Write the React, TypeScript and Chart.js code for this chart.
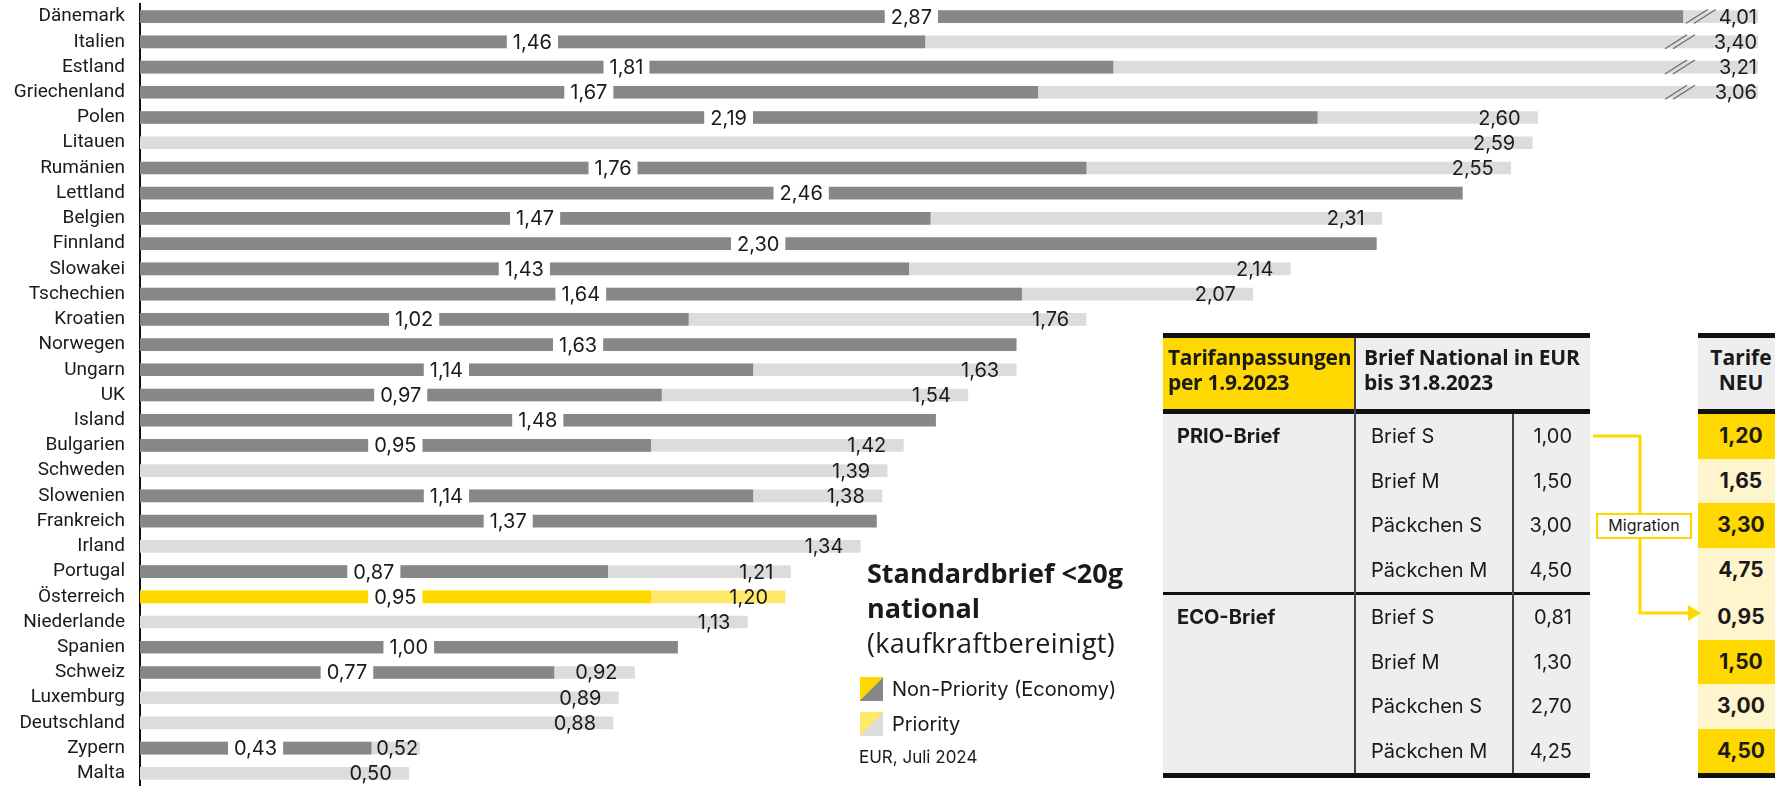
import React, { useEffect, useRef } from "react";
import { Chart, registerables } from "chart.js";

Chart.register(...registerables);

const countries = [
  "Dänemark", "Italien", "Estland", "Griechenland", "Polen", "Litauen", "Rumänien", "Lettland",
  "Belgien", "Finnland", "Slowakei", "Tschechien", "Kroatien", "Norwegen", "Ungarn", "UK",
  "Island", "Bulgarien", "Schweden", "Slowenien", "Frankreich", "Irland", "Portugal", "Österreich",
  "Niederlande", "Spanien", "Schweiz", "Luxemburg", "Deutschland", "Zypern", "Malta",
];

const nonPriority: (number | null)[] = [
  2.87, 1.46, 1.81, 1.67, 2.19, null, 1.76, 2.46,
  1.47, 2.30, 1.43, 1.64, 1.02, 1.63, 1.14, 0.97,
  1.48, 0.95, null, 1.14, 1.37, null, 0.87, 0.95,
  null, 1.00, 0.77, null, null, 0.43, null,
];

const priority: (number | null)[] = [
  4.01, 3.40, 3.21, 3.06, 2.60, 2.59, 2.55, null,
  2.31, null, 2.14, 2.07, 1.76, null, 1.63, 1.54,
  null, 1.42, 1.39, 1.38, null, 1.34, 1.21, 1.20,
  1.13, null, 0.92, 0.89, 0.88, 0.52, 0.50,
];

const highlightCountry = "Österreich";
const X_MAX = 3.01;

const prioItems = ["Brief S", "Brief M", "Päckchen S", "Päckchen M"];
const prioOld = ["1,00", "1,50", "3,00", "4,50"];
const ecoItems = ["Brief S", "Brief M", "Päckchen S", "Päckchen M"];
const ecoOld = ["0,81", "1,30", "2,70", "4,25"];
const newTariffs = ["1,20", "1,65", "3,30", "4,75", "0,95", "1,50", "3,00", "4,50"];
const newHighlight = [true, false, true, false, false, true, false, true];

const fmt = (v: number) => v.toFixed(2).replace(".", ",");

const FONT = "Roboto, 'Noto Sans', sans-serif";
const FONT2 = "Inter, 'Open Sans', sans-serif";
const FONT3 = "'Open Sans', Inter, sans-serif";
const TXT = "#1a1a1a";
const YEL = "#ffd800";
const YEL_LIGHT = "#ffe86a";
const CELL_LIGHT_YEL = "#fff5cc";
const GREY_BG = "#eeeeee";

const labelPlugin = {
  id: "barLabels",
  afterDatasetsDraw(chart: any) {
    const c = chart.ctx as CanvasRenderingContext2D;
    const xs = chart.scales.x;
    const ys = chart.scales.y;
    const area = chart.chartArea;
    c.save();
    c.font = `20px ${FONT2}`;
    c.textBaseline = "middle";
    countries.forEach((_, i) => {
      const y = ys.getPixelForValue(i);
      const np = nonPriority[i];
      const p = priority[i];
      const npEnd = np != null ? xs.getPixelForValue(np) : null;
      if (p != null && p > X_MAX) {
        let bx = area.right - 93;
        if (npEnd != null && npEnd + 3 > bx) bx = npEnd + 3;
        c.strokeStyle = "#6a6a6a";
        c.lineWidth = 1.2;
        c.beginPath();
        c.moveTo(bx, y + 7);
        c.lineTo(bx + 22, y - 7);
        c.moveTo(bx + 8, y + 7);
        c.lineTo(bx + 30, y - 7);
        c.stroke();
      }
      if (np != null && npEnd != null) {
        const t = fmt(np);
        const w = c.measureText(t).width;
        const cx = (area.left + npEnd) / 2;
        c.fillStyle = "#ffffff";
        c.fillRect(cx - w / 2 - 6, y - 7, w + 12, 14);
        c.fillStyle = TXT;
        c.textAlign = "center";
        c.fillText(t, cx, y + 1);
      }
      if (p != null) {
        const t = fmt(p);
        const w = c.measureText(t).width;
        const pEnd = Math.min(xs.getPixelForValue(p), area.right);
        let right = p > X_MAX ? area.right - 1 : pEnd - 17;
        if (npEnd != null && right - w < npEnd + 5) right = npEnd + 5 + w;
        c.fillStyle = TXT;
        c.textAlign = "right";
        c.fillText(t, right, y + 1);
      }
    });
    c.restore();
  },
};

const abs = (l: number, t: number, w: number, h: number, extra: any = {}): React.CSSProperties => ({
  position: "absolute",
  left: l,
  top: t,
  width: w,
  height: h,
  boxSizing: "border-box",
  ...extra,
});

const txt = (family: string, size: number, lh: number, bold = false) => ({
  fontFamily: family,
  fontSize: size,
  fontWeight: bold ? 700 : 400,
  lineHeight: `${lh}px`,
  color: TXT,
  whiteSpace: "nowrap",
});

function Tables() {
  const L = 1163, C1 = 1355, C2 = 1513, R = 1590;
  const topLine = 333, headTop = 338, headBot = 409, bodyTop = 414, rowH = 44.5;
  const midLine = bodyTop + 4 * rowH;
  const ecoTop = midLine + 3;
  const bottom = ecoTop + 4 * rowH;
  const RL = 1698, RW = 86;
  const line = (t: number, h: number, l = L, w = R - L) => <div style={abs(l, t, w, h, { background: "#111" })} />;
  const rowText = (t: number, l: number, w: number, s: string, extra: any = {}) => (
    <div style={abs(l, t, w, rowH, { ...txt(FONT2, 20, rowH), ...extra })}>{s}</div>
  );
  const headH = headBot - headTop - 7;
  return (
    <>
      <div style={abs(L, headTop, C1 - L, headBot - headTop, { background: YEL })} />
      <div style={abs(C1, headTop, R - C1, headBot - headTop, { background: GREY_BG })} />
      <div style={abs(L, bodyTop, R - L, bottom - bodyTop, { background: GREY_BG })} />
      {line(topLine, 5)}
      {line(headBot, 5)}
      {line(midLine, 3)}
      {line(bottom, 5)}
      <div style={abs(C1 - 1, headTop, 2, bottom - headTop, { background: "#444" })} />
      <div style={abs(C2 - 1, bodyTop, 2, bottom - bodyTop, { background: "#444" })} />
      <div style={abs(L + 5, headTop, C1 - L, headH, { ...txt(FONT3, 21, 25, true), display: "flex", alignItems: "center", letterSpacing: "-0.3px" })}>
        <div>Tarifanpassungen<br />per 1.9.2023</div>
      </div>
      <div style={abs(C1 + 9, headTop, R - C1, headH, { ...txt(FONT3, 21, 25, true), display: "flex", alignItems: "center", letterSpacing: "-0.2px" })}>
        <div>Brief National in EUR<br />bis 31.8.2023</div>
      </div>
      {rowText(bodyTop, L + 14, 170, "PRIO-Brief", { fontWeight: 700 })}
      {rowText(ecoTop, L + 14, 170, "ECO-Brief", { fontWeight: 700 })}
      {prioItems.map((it, i) => rowText(bodyTop + i * rowH, C1 + 16, 150, it))}
      {prioOld.map((v, i) => rowText(bodyTop + i * rowH, C2, R - C2 - 18, v, { textAlign: "right" }))}
      {ecoItems.map((it, i) => rowText(ecoTop + i * rowH, C1 + 16, 150, it))}
      {ecoOld.map((v, i) => rowText(ecoTop + i * rowH, C2, R - C2 - 18, v, { textAlign: "right" }))}

      <div style={abs(RL, headTop, RW, headBot - headTop, { background: GREY_BG })} />
      {line(topLine, 5, RL, RW)}
      {line(headBot, 5, RL, RW)}
      {line(bottom, 5, RL, RW)}
      <div style={abs(RL, headTop, RW, headH, { ...txt(FONT3, 21, 25, true), display: "flex", alignItems: "center", justifyContent: "center", textAlign: "center" })}>
        <div>Tarife<br />NEU</div>
      </div>
      {newTariffs.map((v, i) => {
        const t = i < 4 ? bodyTop + i * rowH : ecoTop + (i - 4) * rowH;
        const h = i === 3 ? rowH + 3 : rowH;
        return (
          <div key={i} style={abs(RL, t, RW, h, { background: newHighlight[i] ? YEL : CELL_LIGHT_YEL })}>
            <div style={abs(0, 0, RW, rowH, { ...txt(FONT2, 21, rowH, true), textAlign: "center" })}>{v}</div>
          </div>
        );
      })}

      <svg style={{ position: "absolute", left: 0, top: 0 }} width={1775} height={786}>
        <path d="M 1593 436 H 1640 V 613 H 1690" fill="none" stroke={YEL} strokeWidth={3} />
        <polygon points="1688,605 1701,613 1688,621" fill={YEL} />
      </svg>
      <div style={abs(1596, 513, 96, 26, { background: "#fff", border: `2.5px solid ${YEL}`, ...txt(FONT2, 16, 21), textAlign: "center" })}>Migration</div>
    </>
  );
}

function Legend() {
  const sw = (a: string, b: string) => `linear-gradient(to bottom right, ${a} 50%, ${b} 50%)`;
  return (
    <>
      <div style={abs(867, 555, 360, 70, txt(FONT3, 27, 35, true))}>
        Standardbrief &lt;20g<br />national
      </div>
      <div style={abs(867, 625, 360, 35, { ...txt(FONT3, 27, 35), letterSpacing: "0.3px" })}>(kaufkraftbereinigt)</div>
      <div style={abs(860, 677, 23, 24, { background: sw(YEL, "#878787") })} />
      <div style={abs(892, 677, 300, 24, txt(FONT2, 20, 24))}>Non-Priority (Economy)</div>
      <div style={abs(860, 712, 23, 24, { background: sw(YEL_LIGHT, "#dcdcdc") })} />
      <div style={abs(892, 712, 300, 24, txt(FONT2, 20, 24))}>Priority</div>
      <div style={abs(859, 747, 300, 20, txt(FONT2, 17, 20))}>EUR, Juli 2024</div>
    </>
  );
}

export default function App() {
  const ref = useRef<HTMLCanvasElement>(null);
  useEffect(() => {
    if (!ref.current) return;
    const hi = countries.indexOf(highlightCountry);
    const npColors = countries.map((_, i) => (i === hi ? YEL : "#878787"));
    const pColors = countries.map((_, i) => (i === hi ? YEL_LIGHT : "#dcdcdc"));
    const chart = new Chart(ref.current, {
      type: "bar",
      data: {
        labels: countries,
        datasets: [
          { label: "Non-Priority (Economy)", data: nonPriority as any, backgroundColor: npColors, grouped: false, barThickness: 12, order: 0, borderWidth: 0 } as any,
          { label: "Priority", data: priority as any, backgroundColor: pColors, grouped: false, barThickness: 12, order: 1, borderWidth: 0 } as any,
        ],
      },
      options: {
        indexAxis: "y",
        responsive: false,
        animation: false,
        devicePixelRatio: 1,
        layout: { padding: { top: 4, right: 17, bottom: 0, left: 0 } },
        plugins: { legend: { display: false }, tooltip: { enabled: false } },
        scales: {
          x: { display: false, min: 0, max: X_MAX },
          y: {
            grid: { display: false, drawTicks: false },
            border: { display: true, color: "#111", width: 2 },
            ticks: { autoSkip: false, padding: 15, color: TXT, font: { family: FONT, size: 19 } },
            afterFit: (s: any) => {
              s.width = 140;
              s.paddingTop = 0;
              s.paddingBottom = 0;
            },
          },
        },
      } as any,
      plugins: [labelPlugin],
    });
    return () => chart.destroy();
  }, []);
  return (
    <div style={{ position: "fixed", left: 0, top: 0, width: 1775, height: 786, overflow: "hidden", background: "#fff" }}>
      <canvas ref={ref} width={1775} height={786} style={{ position: "absolute", left: 0, top: 0, width: 1775, height: 786 }} />
      <Legend />
      <Tables />
    </div>
  );
}
